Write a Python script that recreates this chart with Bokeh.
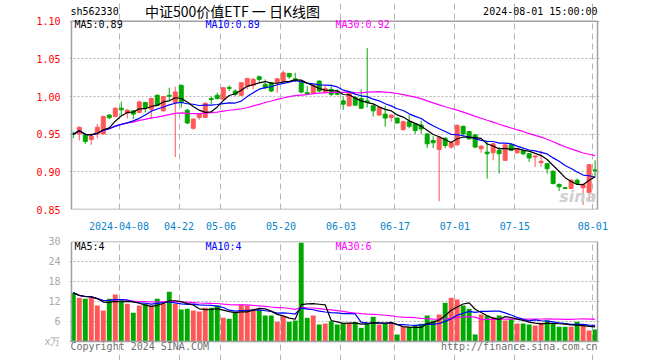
from bokeh.plotting import figure
from bokeh.layouts import column
from bokeh.models import FixedTicker, Label, Range1d, PrintfTickFormatter
from bokeh.embed import file_html
from bokeh.resources import INLINE

# ---- data (sh562330 daily K, 2024-03-25 .. 2024-08-01) ----
opens = [0.9508, 0.9504, 0.9491, 0.9429, 0.9504, 0.9504, 0.9754, 0.9736, 0.9846, 0.9780,
         0.9811, 0.9789, 0.9921, 0.9833, 1.0017, 0.9811, 1.0017, 0.9921, 1.0149, 0.9820,
         0.9579, 0.9723, 0.9723, 0.9973, 1.0017, 0.9964, 1.0122, 1.0074, 1.0017, 1.0140,
         1.0149, 1.0263, 1.0162, 1.0184, 1.0184, 1.0206, 1.0307, 1.0236, 1.0184, 1.0052,
         1.0043, 1.0206, 1.0061, 1.0096, 1.0074, 0.9943, 0.9877, 0.9986, 0.9973, 0.9943,
         0.9877, 0.9754, 0.9767, 0.9723, 0.9714, 0.9561, 0.9666, 0.9636, 0.9622, 0.9504,
         0.9416, 0.9298, 0.9447, 0.9329, 0.9359, 0.9605, 0.9535, 0.9491, 0.9307, 0.9263,
         0.9254, 0.9285, 0.9153, 0.9359, 0.9254, 0.9285, 0.9241, 0.9197, 0.9122, 0.9109,
         0.9008, 0.8833, 0.8789, 0.8780, 0.8890, 0.8789, 0.8728, 0.9026]
highs = [0.9535, 0.9605, 0.9513, 0.9513, 0.9636, 0.9745, 0.9767, 0.9855, 0.9934, 0.9833,
         0.9820, 0.9943, 0.9929, 0.9986, 1.0030, 1.0008, 1.0118, 1.0131, 1.0158, 0.9833,
         0.9710, 0.9780, 0.9921, 1.0000, 1.0052, 1.0127, 1.0149, 1.0096, 1.0193, 1.0250,
         1.0250, 1.0280, 1.0228, 1.0193, 1.0245, 1.0346, 1.0316, 1.0316, 1.0201, 1.0140,
         1.0158, 1.0215, 1.0140, 1.0158, 1.0096, 1.0000, 1.0074, 1.0008, 1.0096, 1.0644,
         0.9886, 0.9864, 0.9877, 0.9763, 0.9723, 0.9679, 0.9754, 0.9645, 0.9679, 0.9513,
         0.9473, 0.9469, 0.9460, 0.9403, 0.9636, 0.9614, 0.9548, 0.9504, 0.9350, 0.9394,
         0.9381, 0.9329, 0.9368, 0.9377, 0.9315, 0.9307, 0.9250, 0.9219, 0.9285, 0.9118,
         0.9021, 0.8846, 0.8802, 0.8899, 0.8912, 0.8846, 0.9105, 0.9153]
lows = [0.9447, 0.9416, 0.9372, 0.9359, 0.9447, 0.9496, 0.9701, 0.9728, 0.9745, 0.9710,
        0.9701, 0.9780, 0.9789, 0.9701, 0.9877, 0.9802, 0.9943, 0.9197, 0.9855, 0.9636,
        0.9561, 0.9693, 0.9715, 0.9899, 0.9964, 0.9960, 1.0074, 1.0008, 1.0008, 1.0096,
        1.0096, 1.0193, 1.0096, 1.0061, 1.0052, 1.0184, 1.0236, 1.0193, 1.0043, 1.0026,
        1.0035, 1.0052, 1.0052, 1.0008, 1.0017, 0.9824, 0.9864, 0.9877, 0.9833, 0.9855,
        0.9736, 0.9745, 0.9600, 0.9666, 0.9640, 0.9548, 0.9579, 0.9504, 0.9504, 0.9315,
        0.9315, 0.8610, 0.9315, 0.9307, 0.9350, 0.9491, 0.9429, 0.9315, 0.9254, 0.8912,
        0.9153, 0.8978, 0.9144, 0.9276, 0.9245, 0.9219, 0.9131, 0.9065, 0.9065, 0.8978,
        0.8833, 0.8745, 0.8771, 0.8771, 0.8824, 0.8561, 0.8627, 0.8934]
closes = [0.9500, 0.9592, 0.9403, 0.9473, 0.9592, 0.9736, 0.9719, 0.9846, 0.9824, 0.9820,
          0.9767, 0.9929, 0.9855, 0.9973, 0.9886, 1.0000, 1.0004, 1.0061, 0.9921, 0.9649,
          0.9701, 0.9767, 0.9912, 0.9960, 0.9973, 1.0118, 1.0109, 1.0030, 1.0184, 1.0241,
          1.0228, 1.0228, 1.0118, 1.0074, 1.0236, 1.0316, 1.0263, 1.0219, 1.0061, 1.0035,
          1.0149, 1.0074, 1.0105, 1.0030, 1.0030, 0.9899, 1.0052, 0.9886, 0.9846, 0.9921,
          0.9811, 0.9855, 0.9714, 0.9754, 0.9649, 0.9666, 0.9605, 0.9548, 0.9570, 0.9372,
          0.9386, 0.9460, 0.9350, 0.9386, 0.9614, 0.9504, 0.9438, 0.9329, 0.9342, 0.9241,
          0.9372, 0.9241, 0.9359, 0.9285, 0.9307, 0.9241, 0.9184, 0.9210, 0.9140, 0.9043,
          0.8846, 0.8802, 0.8780, 0.8890, 0.8846, 0.8833, 0.9096, 0.9013]
volumes = [14.6, 13.1, 12.8, 13.1, 10.8, 9.3, 12.8, 14.1, 12.6, 11.3,
           8.6, 10.8, 11.3, 10.8, 12.8, 11.3, 14.9, 11.3, 9.6, 9.8,
           9.3, 9.0, 10.1, 10.1, 10.8, 7.1, 6.8, 8.6, 11.1, 10.8,
           9.8, 9.4, 7.8, 7.8, 5.9, 7.6, 5.9, 6.3, 29.6, 7.1,
           7.8, 5.1, 5.4, 6.1, 5.1, 5.4, 5.6, 5.8, 4.1, 5.4,
           7.4, 5.1, 5.4, 5.4, 2.1, 4.4, 4.4, 4.9, 5.3, 7.8,
           6.3, 8.1, 11.6, 13.1, 12.6, 10.8, 9.8, 2.1, 8.1, 7.8,
           7.3, 7.8, 6.3, 6.8, 5.4, 5.4, 5.1, 4.8, 5.6, 6.4,
           5.4, 4.4, 4.4, 4.4, 5.9, 4.8, 3.3, 3.6]

tick_index = [8, 18, 25, 35, 45, 54, 64, 74, 87]
tick_labels = ["2024-04-08", "04-22", "05-06", "05-20", "06-03", "06-17", "07-01", "07-15", "08-01"]
price_ticks = [0.85, 0.90, 0.95, 1.00, 1.05, 1.10]
volume_ticks = [0, 6, 12, 18, 24, 30]

title_text = "中证500价值ETF 一 日K线图"
code_text = "sh562330"
time_text = "2024-08-01 15:00:00"
ma_price_texts = ["MA5:0.89", "MA10:0.89", "MA30:0.92"]
ma_volume_texts = ["MA5:4", "MA10:4", "MA30:6"]
footer_left = "Copyright 2024 SINA.COM"
footer_right = "http://finance.sina.com.cn"


def moving_average(vals, w):
    out = []
    for i in range(len(vals)):
        s = vals[max(0, i - w + 1):i + 1]
        out.append(sum(s) / len(s))
    return out


RED = "#ff5656"
GREEN = "#00a800"
C_MA5 = "#000000"
C_MA10 = "#0000ff"
C_MA30 = "#ff00ff"
GRID = "#b4b4b4"
BOX = "#a0a0a0"
MONO = "DejaVu Sans Mono"

n = len(closes)
xs = list(range(n))
colors = [RED if c >= o else GREEN for o, c in zip(opens, closes)]
body_bottom = [min(o, c) for o, c in zip(opens, closes)]
body_top = [max(max(o, c), min(o, c) + 0.0009) for o, c in zip(opens, closes)]

ticks = [i - 0.375 for i in tick_index]
overrides = {t: lbl for t, lbl in zip(ticks, tick_labels)}

# frame: 6 px per trading day; the drawn box spans x -0.3 .. 87.4
BOX_L, BOX_R = -0.3, 87.4
x_range = Range1d(BOX_L - 2 / 6, BOX_R + 2 / 6)

# ---------------- price panel ----------------
P_LO, P_HI = price_ticks[0], price_ticks[-1]
p1 = figure(width=660, height=232, x_range=x_range,
            y_range=Range1d(P_LO, P_LO + (P_HI - P_LO) * 211 / 190),
            output_backend="svg", toolbar_location=None,
            min_border_left=69, min_border_right=61, min_border_top=0, min_border_bottom=21)
p1.outline_line_color = None
p1.background_fill_color = "white"
p1.border_fill_color = "white"

p1.segment(x0=xs, y0=lows, x1=xs, y1=highs, line_color=colors, line_width=1)
p1.vbar(x=xs, width=0.66, bottom=body_bottom, top=body_top,
        fill_color=colors, line_color=colors, line_width=1)
p1.line(xs, moving_average(closes, 30), line_color=C_MA30, line_width=1.2)
p1.line(xs, moving_average(closes, 10), line_color=C_MA10, line_width=1.2)
p1.line(xs, moving_average(closes, 5), line_color=C_MA5, line_width=1.2)
p1.quad(left=BOX_L, right=BOX_R, bottom=P_LO, top=P_HI, fill_color=None,
        line_color=BOX, line_width=1.5)

p1.yaxis.ticker = FixedTicker(ticks=price_ticks)
p1.yaxis.formatter = PrintfTickFormatter(format="%.2f")
p1.xaxis.ticker = FixedTicker(ticks=ticks)
p1.xaxis.major_label_overrides = overrides
for ax in (p1.xaxis, p1.yaxis):
    ax.axis_line_color = None
    ax.major_tick_line_color = None
    ax.minor_tick_line_color = None
    ax.major_label_text_font = MONO
    ax.major_label_text_font_size = "10px"
p1.yaxis.major_label_text_color = "#ff0000"
p1.yaxis.major_label_standoff = 3
p1.xaxis.major_label_text_color = "#0a84cc"
p1.xaxis.major_label_standoff = 6
p1.xgrid.grid_line_color = GRID
p1.xgrid.grid_line_dash = "6 4"
p1.xgrid.bounds = (P_LO, P_HI)
p1.ygrid.grid_line_color = GRID
p1.ygrid.grid_line_dash = "2 2"
p1.ygrid.bounds = (BOX_L, BOX_R)

p1.add_layout(Label(x=163, y=199, x_units="screen", y_units="screen", text=title_text,
                    text_align="center", text_baseline="middle", text_font="Noto Sans CJK SC",
                    text_font_size="14px", text_color="#000000"))
p1.add_layout(Label(x=1, y=198, x_units="screen", y_units="screen", text=code_text,
                    text_align="left", text_baseline="middle", text_font=MONO,
                    text_font_size="10px", text_color="#000000"))
p1.add_layout(Label(x=528, y=198, x_units="screen", y_units="screen", text=time_text,
                    text_align="right", text_baseline="middle", text_font=MONO,
                    text_font_size="10px", text_color="#000000"))
for txt, xpos, col in zip(ma_price_texts, [5, 136, 266], [C_MA5, C_MA10, C_MA30]):
    p1.add_layout(Label(x=xpos, y=185, x_units="screen", y_units="screen", text=txt,
                        text_align="left", text_baseline="middle", text_font=MONO,
                        text_font_size="10px", text_color=col))
p1.add_layout(Label(x=527, y=13, x_units="screen", y_units="screen", text="sina",
                    text_align="right", text_baseline="middle", text_font="DejaVu Sans",
                    text_font_style="bold italic", text_font_size="16px",
                    text_color="#cfcfcf"))

# ---------------- volume panel ----------------
V_LO, V_HI = volume_ticks[0], volume_ticks[-1]
p2 = figure(width=660, height=128, x_range=x_range,
            y_range=Range1d(V_LO - (V_HI - V_LO) * 19 / 100, V_HI),
            output_backend="svg", toolbar_location=None, x_axis_location=None,
            min_border_left=69, min_border_right=61, min_border_top=9, min_border_bottom=0)
p2.outline_line_color = None
p2.background_fill_color = "white"
p2.border_fill_color = "white"

p2.vbar(x=xs, width=0.82, bottom=0, top=volumes, fill_color=colors, line_color=None)
p2.line(xs, moving_average(volumes, 30), line_color=C_MA30, line_width=1.2)
p2.line(xs, moving_average(volumes, 10), line_color=C_MA10, line_width=1.2)
p2.line(xs, moving_average(volumes, 5), line_color=C_MA5, line_width=1.2)
p2.quad(left=BOX_L, right=BOX_R, bottom=V_LO, top=V_HI, fill_color=None,
        line_color=BOX, line_width=1.5)

p2.yaxis.ticker = FixedTicker(ticks=volume_ticks)
p2.yaxis.major_label_overrides = {0: "x万"}
p2.yaxis.axis_line_color = None
p2.yaxis.major_tick_line_color = None
p2.yaxis.minor_tick_line_color = None
p2.yaxis.major_label_text_font = MONO
p2.yaxis.major_label_text_font_size = "10px"
p2.yaxis.major_label_text_color = "#a8a8a8"
p2.yaxis.major_label_standoff = 3
p2.xgrid.ticker = FixedTicker(ticks=ticks)
p2.xgrid.grid_line_color = GRID
p2.xgrid.grid_line_dash = "6 4"
p2.xgrid.bounds = (V_LO, V_HI)
p2.ygrid.grid_line_color = GRID
p2.ygrid.grid_line_dash = "2 2"
p2.ygrid.bounds = (BOX_L, BOX_R)

for txt, xpos, col in zip(ma_volume_texts, [5, 136, 266], [C_MA5, C_MA10, C_MA30]):
    p2.add_layout(Label(x=xpos, y=114, x_units="screen", y_units="screen", text=txt,
                        text_align="left", text_baseline="middle", text_font=MONO,
                        text_font_size="10px", text_color=col))
p2.add_layout(Label(x=1, y=14, x_units="screen", y_units="screen",
                    text=footer_left, text_align="left", text_baseline="middle",
                    text_font=MONO, text_font_size="10px", text_color="#707070"))
p2.add_layout(Label(x=528, y=14, x_units="screen", y_units="screen",
                    text=footer_right, text_align="right", text_baseline="middle",
                    text_font=MONO, text_font_size="10px", text_color="#707070"))

layout = column(p1, p2, spacing=0)
open("out.html", "w").write(file_html(layout, INLINE))
